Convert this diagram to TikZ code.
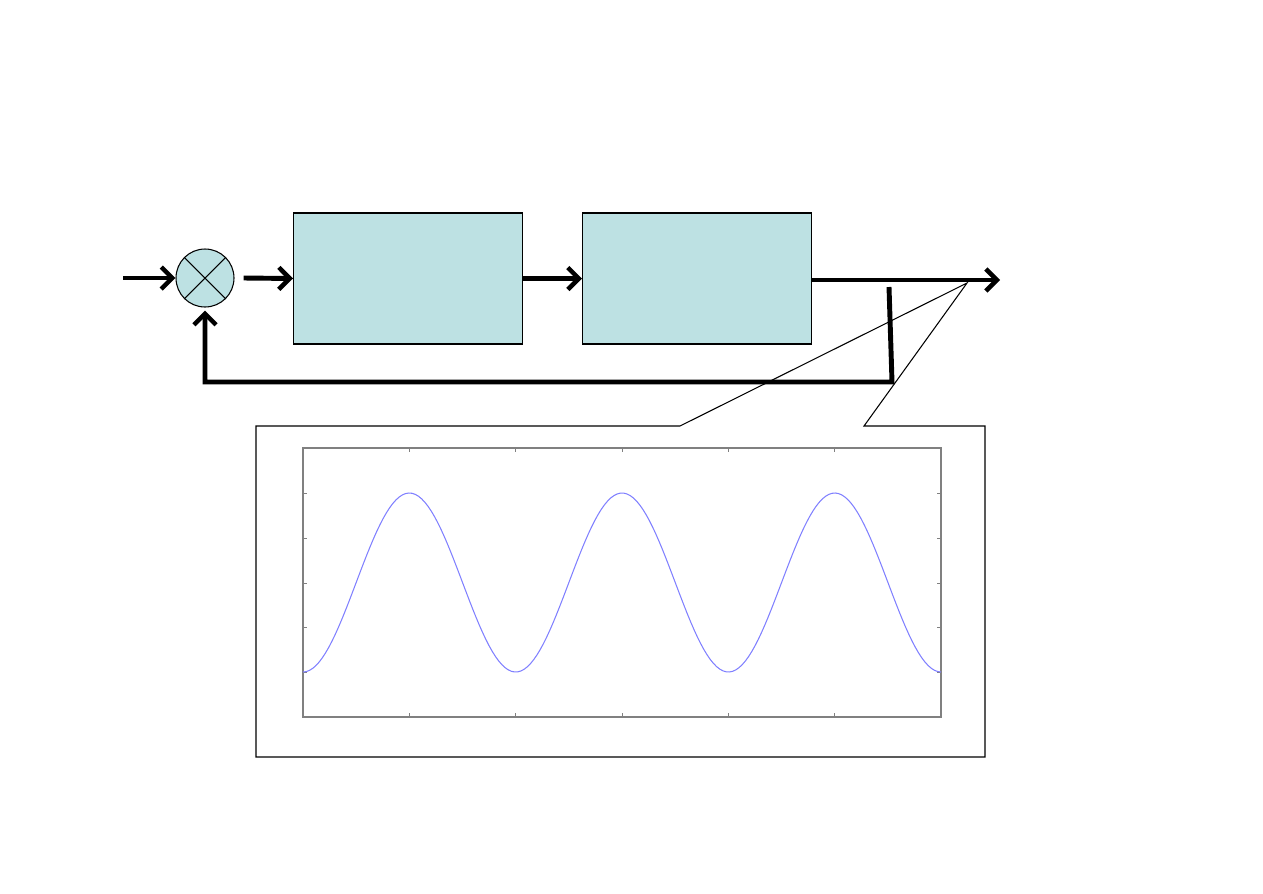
\documentclass[tikz,border=0pt]{standalone}
\usetikzlibrary{arrows.meta,positioning,calc}
\definecolor{blkfill}{HTML}{BDE1E3}
\definecolor{axgray}{HTML}{808080}
\definecolor{sigblue}{HTML}{8080FF}

\begin{document}
\begin{tikzpicture}[x=0.02cm,y=-0.02cm,
      blk/.style={draw,fill=blkfill,line width=0.6pt,minimum width=4.58cm,minimum height=2.62cm,inner sep=0pt},
      sumnode/.style={draw,circle,fill=blkfill,line width=0.6pt,minimum size=1.16cm,inner sep=0pt},
      arr/.style={-{Straight Barb[length=2.2mm,width=4.4mm,line width=2.6pt]},line width=2.8pt},
      thin/.style={line width=0.6pt}]
    \useasboundingbox (0,0) rectangle (1263,893);
    % loop
    \node[sumnode] (sum) at (205,278) {};
    \draw[thin] (sum.north west) -- (sum.south east) (sum.north east) -- (sum.south west);
    \node[blk,anchor=west] (ctrl) at (293,278.5) {};
    \node[blk,right=1.18cm of ctrl] (plant) {};
    \coordinate (in) at (123,278);
    \coordinate (out) at (1000,280);
    \coordinate (tap) at (889,287);
    \coordinate (fb) at (892,382);
    \draw[arr] (in) -- (sum.west);
    \draw[arr] ($(sum.east)+(9,0)$) -- (ctrl.west);
    \draw[arr] (ctrl.east) -- (plant.west);
    \draw[arr] (plant.east |- out) -- (out);
    \draw[arr,line join=miter] (tap) -- (fb) -| ([yshift=-0.06cm]sum.south);
    % callout
    \coordinate (tip) at (967,283);
    \draw[thin] (256,426) -- (680,426) -- (tip) -- (864,426) -- (985,426)
      -- (985,757) -- (256,757) -- cycle;
    % scope trace
    \draw[axgray,line width=0.7pt] (303,448) rectangle (941,717);
    \foreach \tx in {409,515,622,728,834}
      \draw[axgray,line width=0.4pt] (\tx,717) -- ++(0,-4) (\tx,448) -- ++(0,4);
    \foreach \ty in {493,538,583,627,672}
      \draw[axgray,line width=0.4pt] (303,\ty) -- ++(4,0) (941,\ty) -- ++(-4,0);
    \draw[sigblue,line width=0.6pt,domain=0:638,samples=200]
      plot ({303+\x},{582.5+89.5*cos(1.69252*\x)});
  \end{tikzpicture}
\end{document}
